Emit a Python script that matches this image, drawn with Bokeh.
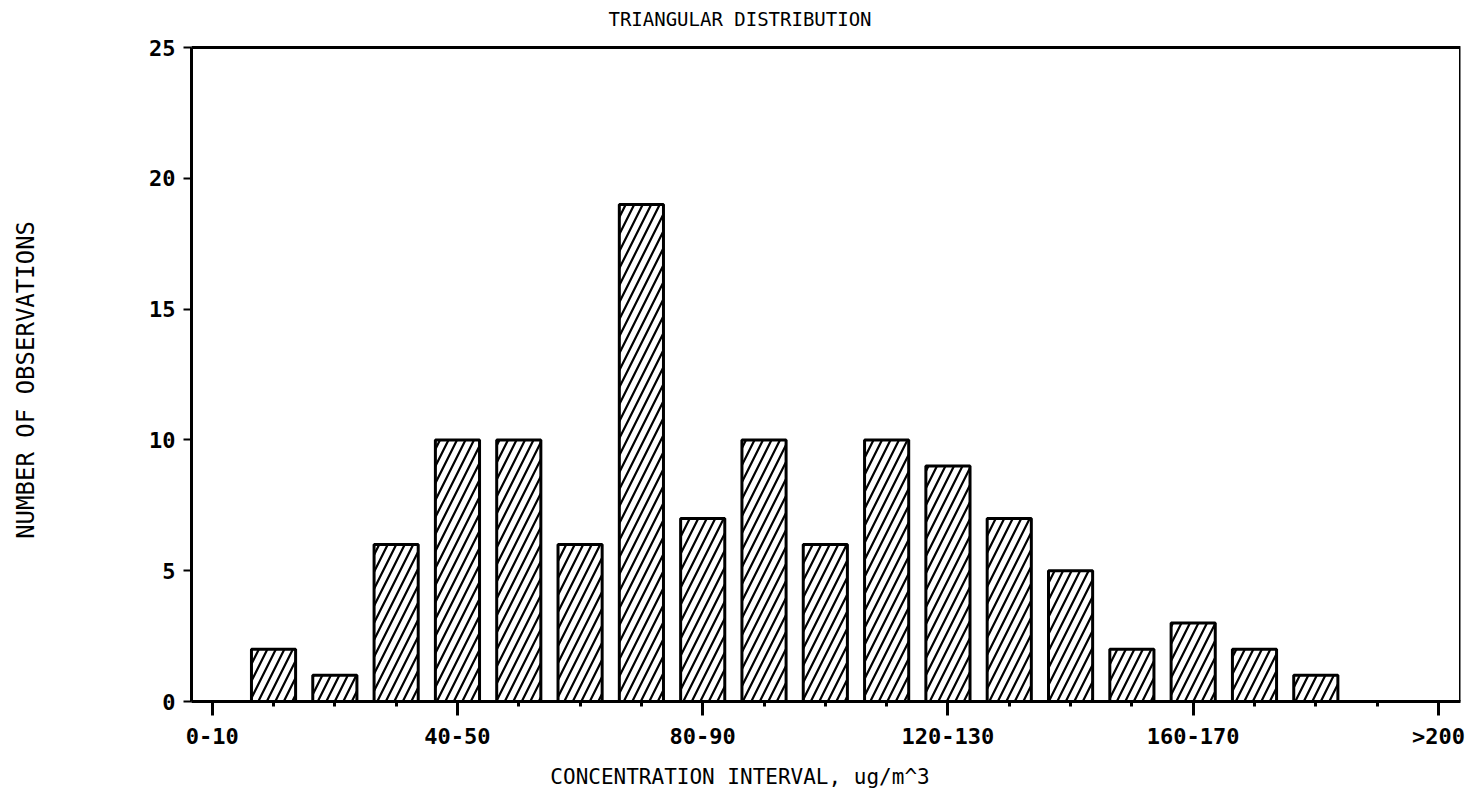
import math
from bokeh.plotting import figure
from bokeh.models import (ColumnDataSource, FixedTicker, Range1d, Title, Label,
                          BoxAnnotation)
from bokeh.embed import file_html
from bokeh.resources import INLINE

# ---- data ----
categories = ["0-10", "10-20", "20-30", "30-40", "40-50", "50-60", "60-70",
              "70-80", "80-90", "90-100", "100-110", "110-120", "120-130",
              "130-140", "140-150", "150-160", "160-170", "170-180",
              "180-190", "190-200", ">200"]
counts = [0, 2, 1, 6, 10, 10, 6, 19, 7, 10, 6, 10, 9, 7, 5, 2, 3, 2, 1, 0, 0]
labelled_categories = ["0-10", "40-50", "80-90", "120-130", "160-170", ">200"]
y_ticks = [0, 5, 10, 15, 20, 25]

title_text = "TRIANGULAR DISTRIBUTION"
x_label_text = "CONCENTRATION INTERVAL, ug/m^3"
y_label_text = "NUMBER OF OBSERVATIONS"

FONT = "DejaVu Sans Mono"
CHAR_W = 0.602  # advance width of the monospace font, in em

positions = list(range(len(categories)))
bar_x = [i for i, c in zip(positions, counts) if c > 0]
bar_top = [c for c in counts if c > 0]
src = ColumnDataSource(dict(x=bar_x, top=bar_top))

W, H = 1479, 799
FL, FR, FT, FB = 191, 1460, 47, 701   # plot box in page pixels
y_min, y_max = y_ticks[0], y_ticks[-1]
# the drawing area reaches the top of the page so that the title can sit there
y_top = y_max * FB / (FB - FT)
x_start, x_end = -0.338, 20.36

p = figure(width=W, height=H, output_backend="svg", toolbar_location=None,
           x_range=Range1d(x_start, x_end), y_range=Range1d(y_min, y_top),
           min_border_left=FL, min_border_right=W - FR,
           min_border_top=0, min_border_bottom=H - FB)

p.vbar(x="x", top="top", bottom=0, width=0.72, source=src,
       fill_color="white", line_color="black", line_width=3,
       hatch_pattern="/", hatch_color="black", hatch_scale=17, hatch_weight=2.2)

p.grid.visible = False
p.outline_line_color = None
p.background_fill_color = "white"
p.border_fill_color = "white"

# plot box outline (0..25)
p.add_layout(BoxAnnotation(bottom=y_min, top=y_max, fill_color=None, fill_alpha=0,
                           line_color="black", line_alpha=1.0, line_dash="solid",
                           line_width=3, level="overlay"))

xa = p.xaxis[0]
xa.ticker = FixedTicker(ticks=[categories.index(c) for c in labelled_categories],
                        minor_ticks=positions)
xa.major_label_overrides = {categories.index(c): c for c in labelled_categories}
xa.major_tick_out = 14
xa.major_tick_in = 0
xa.minor_tick_out = 5
xa.minor_tick_in = 0
xa.major_tick_line_width = 3
xa.minor_tick_line_width = 3
xa.axis_line_width = 3
xa.major_label_standoff = 8
xa.major_label_text_font = FONT
xa.major_label_text_font_size = "22px"
xa.major_label_text_font_style = "bold"
xa.major_label_text_color = "black"

ya = p.yaxis[0]
ya.bounds = (y_min, y_max)
ya.ticker = FixedTicker(ticks=y_ticks, minor_ticks=[])
ya.major_tick_out = 8
ya.major_tick_in = 0
ya.major_tick_line_width = 2
ya.axis_line_width = 3
ya.major_label_standoff = 8
ya.major_label_text_font = FONT
ya.major_label_text_font_size = "22px"
ya.major_label_text_font_style = "bold"
ya.major_label_text_color = "black"
# trailing blanks shift the label's visible centre to the middle of the 0..25 box
ya.axis_label = y_label_text + "    "
ya.axis_label_text_font = FONT
ya.axis_label_text_font_size = "24px"
ya.axis_label_text_font_style = "normal"
ya.axis_label_text_color = "black"
ya.axis_label_standoff = 106

# title: centred on the page, near its top
def px_to_x(px):
    return x_start + (px - FL) / (FR - FL) * (x_end - x_start)

def py_to_y(py):
    return y_top * (FB - py) / FB

p.add_layout(Label(x=px_to_x(W / 2), y=py_to_y(18), text=title_text,
                   text_font=FONT, text_font_size="19px", text_color="black",
                   text_align="center", text_baseline="middle"))

xl_fs = 21
xl_off = (W / 2) - len(x_label_text) * CHAR_W * xl_fs / 2 - FL
p.add_layout(Title(text=x_label_text, align="left", offset=xl_off,
                   text_font=FONT, text_font_size=f"{xl_fs}px",
                   text_font_style="normal", text_color="black", standoff=22), "below")

open("out.html", "w").write(file_html(p, INLINE))
